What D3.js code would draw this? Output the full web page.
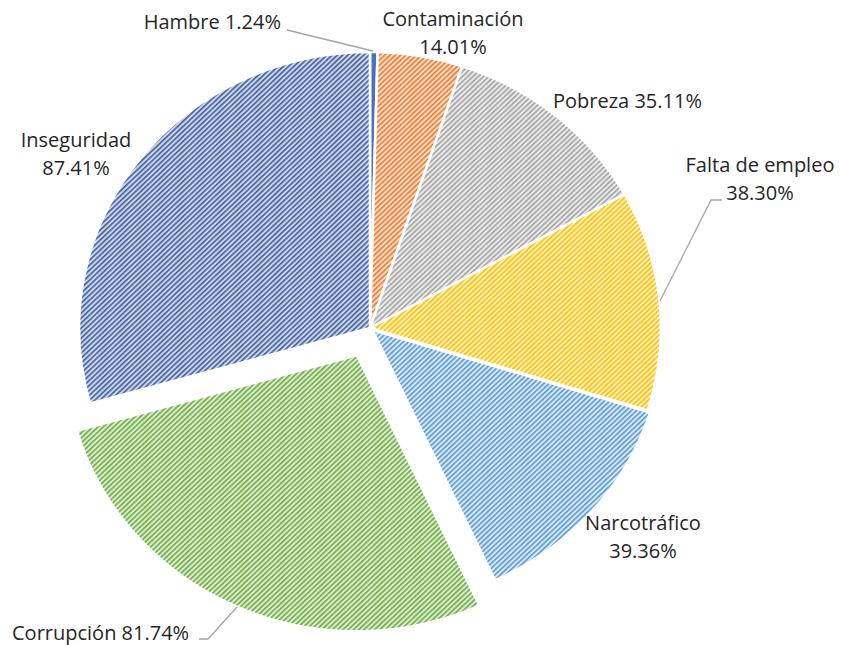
<!DOCTYPE html>
<html><head><meta charset="utf-8">
<script src="https://cdn.jsdelivr.net/npm/d3@7"></script>
<style>
html,body{margin:0;padding:0;background:#fff;}
svg{display:block;}
text{font-family:"Open Sans",sans-serif;font-size:20px;fill:#262626;}
</style></head>
<body>
<svg id="chart" width="841" height="645"></svg>
<script>
const categories = ["Hambre","Contaminación","Pobreza","Falta de empleo","Narcotráfico","Corrupción","Inseguridad"];
const values = [1.24, 14.01, 35.11, 38.30, 39.36, 81.74, 87.41];
const valueLabels = ["1.24%","14.01%","35.11%","38.30%","39.36%","81.74%","87.41%"];
const stripeColors = ["#4472C4","#ED7D31","#A5A5A5","#FFC000","#5B9BD5","#70AD47","#46619C"];
const tintColors   = ["#4472C4","#FBDCC8","#EAEAEA","#FFF1C6","#D9E8F6","#DCECD0","#CCD6EA"];

const svg = d3.select("#chart");
const W = 841, H = 645;
const cx = 370, cy = 328, ry = 276, rx = 291;
const sx = rx / ry;
const explode = {"Narcotráfico": 3, "Corrupción": 30};

const period = 5 / Math.SQRT2;
const defs = svg.append("defs");
categories.forEach((c, i) => {
  const p = defs.append("pattern")
    .attr("id", "pat" + i)
    .attr("patternUnits", "userSpaceOnUse")
    .attr("width", period).attr("height", period)
    .attr("patternTransform", "rotate(45)");
  p.append("rect").attr("width", period).attr("height", period).attr("fill", tintColors[i]);
  p.append("rect").attr("width", period * 0.45).attr("height", period).attr("fill", stripeColors[i]);
});

const pie = d3.pie().sort(null).value(d => d)(values);
const arc = d3.arc().innerRadius(0).outerRadius(ry);

const g = svg.append("g").attr("transform", `translate(${cx},${cy})`);
g.selectAll("path").data(pie).join("path")
  .attr("d", arc)
  .attr("transform", (d, i) => {
    const off = explode[categories[i]] || 0;
    const m = (d.startAngle + d.endAngle) / 2;
    return `translate(${off * Math.sin(m) * sx},${-off * Math.cos(m)}) scale(${sx},1)`;
  })
  .attr("fill", (d, i) => `url(#pat${i})`)
  .attr("stroke", "#fff")
  .attr("stroke-width", 2.5)
  .attr("stroke-linejoin", "round");

// leader lines
const line = d3.line();
const leaders = [
  [[287, 30], [373, 51]],
  [[722, 200], [711, 200], [660, 301]],
  [[199, 639], [208, 639], [237, 607]]
];
svg.selectAll("path.leader").data(leaders).join("path")
  .attr("class", "leader")
  .attr("d", line)
  .attr("fill", "none")
  .attr("stroke", "#A6A6A6")
  .attr("stroke-width", 1.3);

// labels
const labels = [
  {lines: [categories[0] + " " + valueLabels[0]], x: 281, y: 29, anchor: "end"},
  {lines: [categories[1], valueLabels[1]], x: 453, y: 26, anchor: "middle"},
  {lines: [categories[2] + " " + valueLabels[2]], x: 553, y: 108, anchor: "start"},
  {lines: [categories[3], valueLabels[3]], x: 760, y: 172, anchor: "middle"},
  {lines: [categories[4], valueLabels[4]], x: 643, y: 530, anchor: "middle"},
  {lines: [categories[5] + " " + valueLabels[5]], x: 12, y: 640, anchor: "start"},
  {lines: [categories[6], valueLabels[6]], x: 76, y: 147, anchor: "middle"}
];
labels.forEach(l => {
  const t = svg.append("text").attr("text-anchor", l.anchor);
  l.lines.forEach((s, k) => {
    t.append("tspan").attr("x", l.x).attr("y", l.y + k * 27.5).text(s);
  });
});
</script>
</body></html>
